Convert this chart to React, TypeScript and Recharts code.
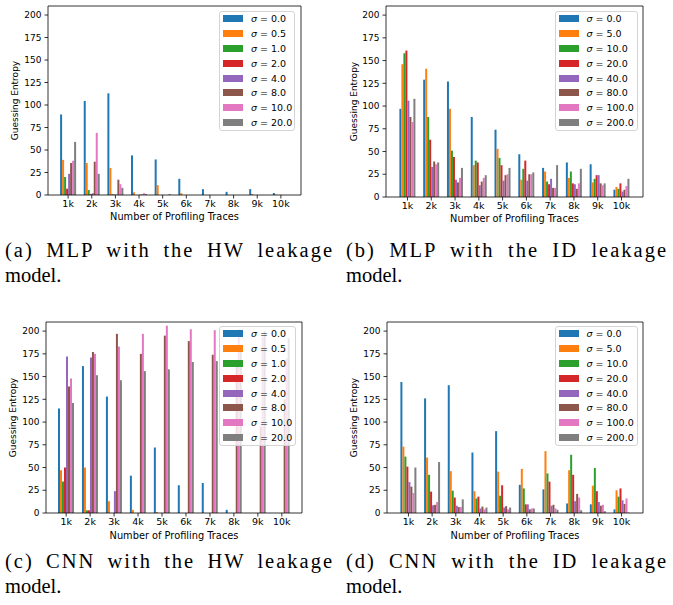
import React from "react";
import { BarChart, Bar, XAxis, YAxis, ReferenceLine } from "recharts";

// shared axis stuff
const categories = ["1k", "2k", "3k", "4k", "5k", "6k", "7k", "8k", "9k", "10k"];
const sigmaHw = ["0.0", "0.5", "1.0", "2.0", "4.0", "8.0", "10.0", "20.0"];
const sigmaId = ["0.0", "5.0", "10.0", "20.0", "40.0", "80.0", "100.0", "200.0"];
const yTicks = [0, 25, 50, 75, 100, 125, 150, 175, 200];
const yMax = 210;
const colors = ["#1f77b4", "#ff7f0e", "#2ca02c", "#d62728", "#9467bd", "#8c564b", "#e377c2", "#7f7f7f"];

// one row per sigma, one value per number of traces
const mlpHw: number[][] = [
  [89.5, 104.5, 113, 44, 39.5, 18, 6.5, 3.5, 6.5, 2.2],
  [39, 35.5, 30, 3, 11, 2, 0, 0, 1, 0.5],
  [20, 5.5, 1, 0, 0, 0, 0, 0, 0, 0],
  [7, 1, 0.5, 0, 0, 0, 0, 0, 0, 0],
  [23.5, 2, 0.3, 0.5, 0, 0, 0, 0, 0, 0],
  [35.5, 37, 17, 0.5, 0, 0, 0, 0, 0, 0],
  [38, 69, 12, 2, 0, 0, 0, 0, 0, 0],
  [59, 23.5, 8, 1, 1, 0, 0, 0, 0, 0],
];
const mlpId: number[][] = [
  [97, 129, 127, 88, 74, 47, 32, 38, 36, 8],
  [146, 141, 97, 35, 53, 19, 28, 21, 16, 11],
  [158, 88, 51, 40, 43, 31, 17, 28, 20, 9],
  [161, 63, 44, 38, 35, 40, 14, 15, 24, 15],
  [106, 33, 19, 13, 18, 18, 20, 14, 24, 6],
  [88, 39, 16, 17, 24, 25, 10, 9, 15, 8],
  [82.5, 36, 21, 21, 25, 25, 10, 15, 13, 12],
  [108, 38, 32, 24, 32, 27, 35, 31, 15, 20],
];
const cnnHw: number[][] = [
  [115, 161.5, 128, 41, 72, 30.5, 33, 3.5, 0, 0],
  [47, 50, 13, 3.5, 1, 0, 0, 0, 0, 0],
  [34.5, 3, 0, 0, 0, 0, 0, 0, 0, 0],
  [50, 3, 0, 0, 0, 0, 0, 0, 0, 0],
  [172, 171, 24, 0, 0, 0, 0, 0, 0, 0],
  [139, 177, 197, 175, 195, 189, 174, 168, 95, 125],
  [148, 175, 183, 197, 206, 202, 201, 202, 194, 170],
  [121, 151.5, 146, 156, 158, 166, 167, 180, 200, 192],
];
const cnnId: number[][] = [
  [144, 126, 140.5, 66.5, 90, 31, 26, 10.5, 9.5, 4],
  [73, 61, 46, 24, 45.5, 48.5, 68, 47, 30, 25],
  [62, 42, 24.5, 16, 19, 27, 43.5, 64, 49.5, 18],
  [51, 23.5, 17, 18, 30.5, 9.5, 34.5, 42, 24, 27],
  [34, 8.5, 8, 5, 6, 9.5, 8, 13, 12, 14],
  [29, 9, 6.5, 7, 7.5, 4, 9, 21, 8, 10],
  [22, 12, 6.5, 4, 4, 5, 5, 17, 9, 16],
  [50, 56, 15, 6, 6, 5, 3.5, 3, 2, 0.5],
];

const toRows = (values: number[][]) =>
  categories.map((name, i) => {
    const row: Record<string, string | number> = { name };
    values.forEach((series, k) => {
      row[`s${k}`] = series[i];
    });
    return row;
  });

const line = { stroke: "#000", strokeWidth: 0.8 };

interface PanelProps {
  values: number[][];
  sigmas: string[];
  box: { x: number; y: number; w: number; h: number };
  plot: { l: number; r: number; t: number; b: number };
  pad: number;
  yLabelX: number;
  xLabelY: number;
  legend: { x: number; y: number; w: number };
}

const Panel: React.FC<PanelProps> = ({ values, sigmas, box, plot, pad, yLabelX, xLabelY, legend }) => {
  const data = toRows(values);
  const midY = (plot.t + plot.b) / 2;
  const midX = (plot.l + plot.r) / 2;

  return (
    <div style={{ position: "absolute", left: box.x, top: box.y, width: box.w, height: box.h }}>
      <BarChart
        width={box.w}
        height={box.h}
        data={data}
        margin={{ top: plot.t, right: box.w - plot.r - 1, bottom: 0, left: 0 }}
        barGap={0}
        barCategoryGap={3.8}
      >
        <XAxis
          dataKey="name"
          height={box.h - plot.b}
          padding={{ left: pad, right: pad }}
          interval={0}
          tickSize={3.5}
          tickMargin={2}
          tick={{ fontSize: 9.5, fill: "#000" }}
          tickLine={line}
          axisLine={line}
          label={() => (
            <text x={midX} y={xLabelY} textAnchor="middle" dominantBaseline="central" fontSize={9.8} fill="#000">
              Number of Profiling Traces
            </text>
          )}
        />
        <YAxis
          type="number"
          width={plot.l}
          domain={[0, yMax]}
          ticks={yTicks}
          tickSize={3.5}
          tickMargin={3}
          tick={{ fontSize: 9, fill: "#000" }}
          tickLine={line}
          axisLine={line}
          label={() => (
            <text
              x={yLabelX}
              y={midY}
              transform={`rotate(-90 ${yLabelX} ${midY})`}
              textAnchor="middle"
              dominantBaseline="central"
              fontSize={9}
              fill="#000"
            >
              Guessing Entropy
            </text>
          )}
        />
        {/* right spine */}
        <YAxis yAxisId="r" orientation="right" width={1} domain={[0, yMax]} tick={false} tickLine={false} axisLine={line} />
        {sigmas.map((s, k) => (
          <Bar key={s} dataKey={`s${k}`} name={`σ = ${s}`} fill={colors[k]} isAnimationActive={false} />
        ))}
        {/* top spine */}
        <ReferenceLine y={yMax} stroke="#000" strokeWidth={0.8} />
      </BarChart>
      <div
        style={{
          position: "absolute",
          left: legend.x,
          top: legend.y,
          width: legend.w,
          border: "1px solid #d4d4d4",
          borderRadius: 3,
          background: "rgba(255,255,255,0.8)",
          boxSizing: "border-box",
          padding: "0 0 0 3px",
        }}
      >
        {sigmas.map((s, k) => (
          <div key={s} style={{ display: "flex", alignItems: "center", height: 14.8 }}>
            <span style={{ display: "inline-block", width: 20, height: 7, background: colors[k], marginRight: 8 }} />
            <span style={{ fontSize: 9.5, whiteSpace: "nowrap", color: "#000" }}>
              <i>σ</i> = {s}
            </span>
          </div>
        ))}
      </div>
    </div>
  );
};

const Caption: React.FC<{ x: number; y: number; w: number; first: string; second: string }> = ({ x, y, w, first, second }) => (
  <div
    style={{
      position: "absolute",
      left: x,
      top: y,
      width: w,
      fontFamily: '"Liberation Serif", "Times New Roman", serif',
      fontSize: 20.5,
      lineHeight: "25px",
      color: "#000",
    }}
  >
    <div style={{ textAlign: "justify", textAlignLast: "justify", letterSpacing: 2, whiteSpace: "nowrap" }}>{first}</div>
    <div>{second}</div>
  </div>
);

export default function App() {
  return (
    <div
      style={{
        position: "absolute",
        left: 0,
        top: 0,
        width: 673,
        height: 605,
        background: "#fff",
        fontFamily: '"DejaVu Sans", sans-serif',
        overflow: "hidden",
      }}
    >
      <Panel
        values={mlpHw}
        sigmas={sigmaHw}
        box={{ x: 0, y: 0, w: 336, h: 230 }}
        plot={{ l: 48, r: 301, t: 6, b: 195 }}
        pad={8.3}
        yLabelX={15}
        xLabelY={216.7}
        legend={{ x: 219, y: 10.5, w: 76 }}
      />
      <Panel
        values={mlpId}
        sigmas={sigmaId}
        box={{ x: 336, y: 0, w: 337, h: 230 }}
        plot={{ l: 50, r: 307, t: 6, b: 197 }}
        pad={9.6}
        yLabelX={18}
        xLabelY={218.3}
        legend={{ x: 218.5, y: 10.5, w: 83 }}
      />
      <Panel
        values={cnnHw}
        sigmas={sigmaHw}
        box={{ x: 0, y: 310, w: 336, h: 240 }}
        plot={{ l: 46, r: 302, t: 12, b: 203 }}
        pad={8.2}
        yLabelX={13.3}
        xLabelY={225}
        legend={{ x: 219, y: 15.5, w: 77 }}
      />
      <Panel
        values={cnnId}
        sigmas={sigmaId}
        box={{ x: 336, y: 310, w: 337, h: 240 }}
        plot={{ l: 51, r: 307, t: 12, b: 203 }}
        pad={9.6}
        yLabelX={18.3}
        xLabelY={225}
        legend={{ x: 218.5, y: 15.5, w: 83 }}
      />
      <Caption x={5} y={238.3} w={329} first="(a) MLP with the HW leakage" second="model." />
      <Caption x={346} y={238.3} w={322} first="(b) MLP with the ID leakage" second="model." />
      <Caption x={5} y={549.3} w={329} first="(c) CNN with the HW leakage" second="model." />
      <Caption x={346} y={549.3} w={322} first="(d) CNN with the ID leakage" second="model." />
    </div>
  );
}
